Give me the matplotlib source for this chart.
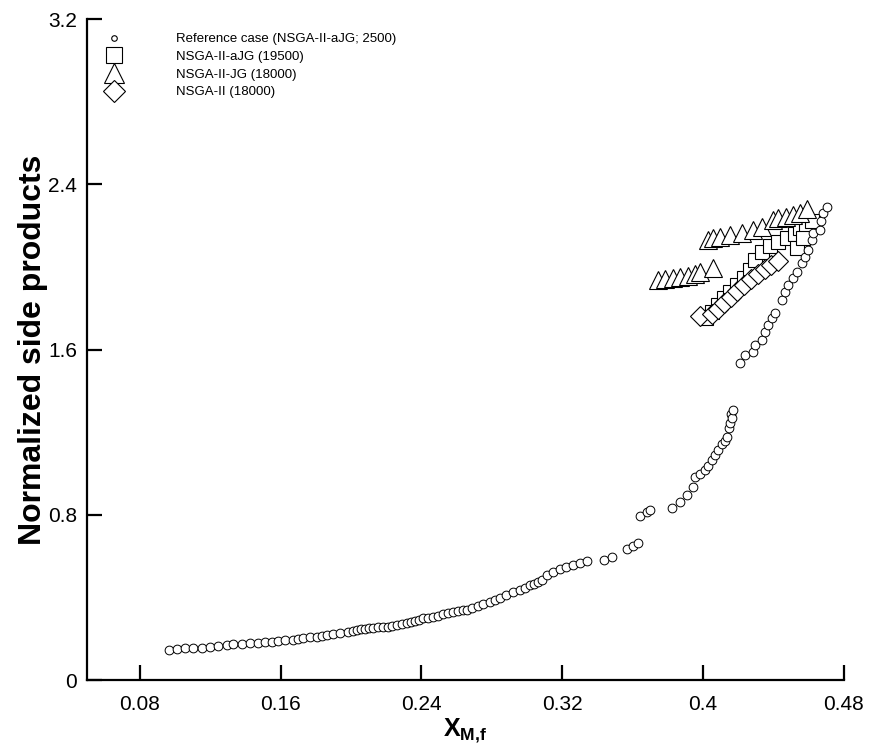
import matplotlib
matplotlib.use('Agg')
import matplotlib.pyplot as plt
from matplotlib.lines import Line2D

plt.rcParams['font.family'] = ['Liberation Sans', 'DejaVu Sans']
plt.rcParams['mathtext.fontset'] = 'custom'
plt.rcParams['mathtext.rm'] = 'Liberation Sans'
plt.rcParams['mathtext.bf'] = 'Liberation Sans:bold'

# Reference front (NSGA-II-aJG, 2500 generations)
ref_x = [0.0966, 0.1011, 0.1057, 0.1102, 0.1153, 0.1199, 0.1244, 0.1295, 0.1329, 0.1380,
         0.1426, 0.1471, 0.1511, 0.1551, 0.1585, 0.1625, 0.1670, 0.1698, 0.1727, 0.1767,
         0.1806, 0.1835, 0.1863, 0.1897, 0.1937, 0.1982, 0.2011, 0.2034, 0.2056, 0.2079,
         0.2102, 0.2124, 0.2153, 0.2181, 0.2210, 0.2232, 0.2261, 0.2289, 0.2318, 0.2340,
         0.2363, 0.2386, 0.2408, 0.2437, 0.2465, 0.2494, 0.2522, 0.2550, 0.2579, 0.2607,
         0.2636, 0.2658, 0.2687, 0.2721, 0.2749, 0.2789, 0.2817, 0.2846, 0.2880, 0.2920,
         0.2959, 0.2988, 0.3016, 0.3039, 0.3062, 0.3084, 0.3113, 0.3147, 0.3187, 0.3221,
         0.3260, 0.3300, 0.3340, 0.3437, 0.3482, 0.3567, 0.3601, 0.3630,
         0.3641, 0.3681, 0.3698, 0.3823, 0.3868, 0.3908, 0.3942, 0.3953, 0.3982, 0.4010,
         0.4027, 0.4050, 0.4067, 0.4084, 0.4107, 0.4124, 0.4135, 0.4147, 0.4152, 0.4158,
         0.4164, 0.4169,
         0.4209, 0.4237, 0.4283, 0.4294, 0.4334, 0.4351, 0.4368, 0.4391, 0.4408, 0.4448,
         0.4465, 0.4482, 0.4510, 0.4533, 0.4561, 0.4578, 0.4595, 0.4618, 0.4624, 0.4663,
         0.4669, 0.4680, 0.4703]
ref_y = [0.145, 0.150, 0.155, 0.155, 0.155, 0.160, 0.165, 0.169, 0.174, 0.174,
         0.179, 0.179, 0.184, 0.184, 0.189, 0.194, 0.194, 0.198, 0.203, 0.208,
         0.208, 0.213, 0.218, 0.223, 0.227, 0.232, 0.237, 0.242, 0.247, 0.247,
         0.252, 0.252, 0.257, 0.257, 0.257, 0.261, 0.266, 0.271, 0.276, 0.281,
         0.286, 0.290, 0.300, 0.300, 0.305, 0.310, 0.319, 0.324, 0.329, 0.334,
         0.339, 0.339, 0.348, 0.358, 0.368, 0.378, 0.387, 0.397, 0.411, 0.426,
         0.436, 0.445, 0.460, 0.465, 0.474, 0.484, 0.508, 0.523, 0.537, 0.547,
         0.557, 0.566, 0.576, 0.581, 0.595, 0.634, 0.649, 0.663,
         0.794, 0.813, 0.823, 0.833, 0.862, 0.895, 0.934, 0.983, 0.997, 1.016,
         1.036, 1.065, 1.089, 1.113, 1.142, 1.157, 1.176, 1.220, 1.244, 1.288,
         1.268, 1.307,
         1.534, 1.573, 1.588, 1.621, 1.646, 1.684, 1.718, 1.752, 1.776, 1.839,
         1.878, 1.912, 1.946, 1.975, 2.018, 2.047, 2.081, 2.130, 2.164, 2.178,
         2.222, 2.260, 2.289]

# NSGA-II-aJG (19500)
ajg_x = [0.4016, 0.4050, 0.4084, 0.4118, 0.4152, 0.4192, 0.4232, 0.4266, 0.4294, 0.4334,
         0.4379, 0.4425, 0.4476, 0.4521, 0.4550, 0.4584, 0.4618, 0.4533, 0.4567]
ajg_y = [1.752, 1.781, 1.815, 1.849, 1.878, 1.912, 1.946, 1.985, 2.033, 2.072,
         2.101, 2.120, 2.139, 2.159, 2.188, 2.202, 2.222, 2.091, 2.140]

# NSGA-II-JG (18000)
jg_x = [0.3743, 0.3783, 0.3828, 0.3868, 0.3914, 0.3953, 0.3982, 0.4056,
        0.4027, 0.4056, 0.4095, 0.4152, 0.4220, 0.4283, 0.4334, 0.4396, 0.4425,
        0.4470, 0.4510, 0.4550, 0.4590]
jg_y = [1.936, 1.941, 1.946, 1.951, 1.955, 1.965, 1.975, 1.994,
        2.130, 2.139, 2.144, 2.154, 2.164, 2.178, 2.193, 2.226, 2.236,
        2.241, 2.251, 2.260, 2.280]

# NSGA-II (18000)
nsga_x = [0.3982, 0.4050, 0.4084, 0.4118, 0.4158, 0.4192, 0.4232, 0.4272, 0.4311, 0.4351,
          0.4385, 0.4425]
nsga_y = [1.762, 1.772, 1.796, 1.825, 1.854, 1.883, 1.912, 1.941, 1.965, 1.989,
          2.009, 2.028]

labels = ['Reference case (NSGA-II-aJG; 2500)', 'NSGA-II-aJG (19500)',
          'NSGA-II-JG (18000)', 'NSGA-II (18000)']

fig = plt.figure(figsize=(8.7, 7.49), dpi=100)
ax = fig.add_axes([0.1, 0.0921, 0.870, 0.8825])

style = dict(linestyle='none', markerfacecolor='white', markeredgecolor='black')
ax.plot(ajg_x, ajg_y, marker='s', markersize=10, markeredgewidth=0.8, zorder=2, **style)
ax.plot(nsga_x, nsga_y, marker='D', markersize=10.5, markeredgewidth=0.8, zorder=3, **style)
ax.plot(jg_x, jg_y, marker='^', markersize=13, markeredgewidth=0.8, zorder=4, **style)
ax.plot(ref_x, ref_y, marker='o', markersize=6.3, markeredgewidth=0.7, zorder=5, **style)

ax.set_xlim(0.05, 0.48)
ax.set_ylim(0, 3.2)
ax.set_xticks([0.08, 0.16, 0.24, 0.32, 0.4, 0.48])
ax.set_xticklabels(['0.08', '0.16', '0.24', '0.32', '0.4', '0.48'])
ax.set_yticks([0, 0.8, 1.6, 2.4, 3.2])
ax.set_yticklabels(['0', '0.8', '1.6', '2.4', '3.2'])

for s in ['top', 'right']:
    ax.spines[s].set_visible(False)
for s in ['left', 'bottom']:
    ax.spines[s].set_linewidth(1.6)
ax.tick_params(direction='in', length=11, width=1.6, labelsize=15)
ax.tick_params(axis='x', pad=11)
ax.tick_params(axis='y', pad=7)

ax.set_xlabel(r'$\mathbf{X}_{\mathbf{M{,}f}}$', fontsize=18, labelpad=2)
ax.set_ylabel('Normalized side products', fontsize=23, fontweight='bold', labelpad=0)

handles = [
    Line2D([], [], marker='o', markersize=4, **style, markeredgewidth=0.8),
    Line2D([], [], marker='s', markersize=12, **style, markeredgewidth=0.8),
    Line2D([], [], marker='^', markersize=14, **style, markeredgewidth=0.8),
    Line2D([], [], marker='D', markersize=11, **style, markeredgewidth=0.8),
]
ax.legend(handles, labels, loc='upper left', bbox_to_anchor=(0.009, 0.989),
          frameon=False, fontsize=9.5, handlelength=2, handletextpad=3.7,
          labelspacing=0.42, borderpad=0)

fig.savefig('out.png', dpi=100)
